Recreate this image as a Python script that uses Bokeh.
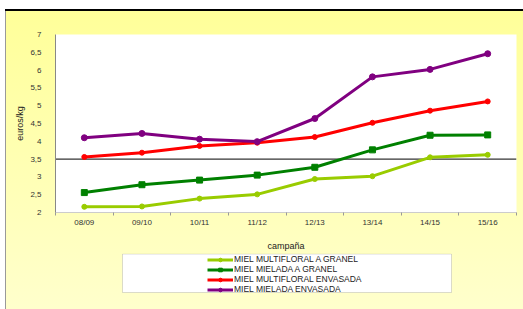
from bokeh.plotting import figure
from bokeh.layouts import column
from bokeh.models import Range1d, FixedTicker, Span, Legend, LegendItem, BoxAnnotation
from bokeh.embed import file_html
from bokeh.resources import INLINE

# ---- data ----
categories = ["08/09", "09/10", "10/11", "11/12", "12/13", "13/14", "14/15", "15/16"]
multifloral_granel = [2.16, 2.17, 2.39, 2.51, 2.94, 3.02, 3.55, 3.62]
mielada_granel = [2.56, 2.78, 2.91, 3.05, 3.27, 3.76, 4.17, 4.18]
multifloral_envasada = [3.56, 3.68, 3.87, 3.96, 4.12, 4.52, 4.86, 5.12]
mielada_envasada = [4.10, 4.22, 4.06, 3.99, 4.64, 5.81, 6.02, 6.46]
series_names = ["MIEL MULTIFLORAL A GRANEL", "MIEL MIELADA A GRANEL",
                "MIEL MULTIFLORAL ENVASADA", "MIEL MIELADA ENVASADA"]
y_ticks = [2, 2.5, 3, 3.5, 4, 4.5, 5, 5.5, 6, 6.5, 7]
y_tick_labels = ["2", "2,5", "3", "3,5", "4", "4,5", "5", "5,5", "6", "6,5", "7"]
reference_level = 3.5

x = [i + 0.5 for i in range(len(categories))]

FONT = "Liberation Sans"

p = figure(width=518, height=244, output_backend="svg", toolbar_location=None,
           x_range=Range1d(0, len(categories)), y_range=Range1d(2, 7),
           min_border_left=50, min_border_right=7, min_border_top=25,
           min_border_bottom=39)
p.border_fill_color = None
p.background_fill_color = "white"
p.outline_line_color = None
p.xgrid.visible = False
p.ygrid.visible = False

# axes
p.xaxis.ticker = FixedTicker(ticks=x, minor_ticks=list(range(len(categories) + 1)))
p.xaxis.major_label_overrides = {xi: c for xi, c in zip(x, categories)}
p.xaxis.major_tick_out = 0
p.xaxis.major_tick_in = 0
p.xaxis.minor_tick_out = 3
p.xaxis.minor_tick_in = 0
p.xaxis.minor_tick_line_color = "#999999"
p.xaxis.axis_line_color = "#cccccc"
p.xaxis.major_label_standoff = 2
p.xaxis.axis_label = "campaña"
p.xaxis.axis_label_standoff = 11

p.yaxis.ticker = FixedTicker(ticks=y_ticks, minor_ticks=[])
p.yaxis.major_label_overrides = {t: l for t, l in zip(y_ticks, y_tick_labels)}
p.yaxis.major_tick_out = 0
p.yaxis.major_tick_in = 0
p.yaxis.axis_line_color = "#888888"
p.yaxis.axis_line_width = 1
p.yaxis.major_label_standoff = 14
p.yaxis.axis_label = "euros/kg"
p.yaxis.axis_label_standoff = 2

for ax in (p.xaxis, p.yaxis):
    ax.major_label_text_font = FONT
    ax.major_label_text_font_size = "8px"
    ax.major_label_text_color = "#333333"
    ax.axis_label_text_font = FONT
    ax.axis_label_text_font_size = "9px"
    ax.axis_label_text_font_style = "normal"
    ax.axis_label_text_color = "#222222"

span = Span(location=reference_level, dimension="width", line_color="black",
            line_width=1, level="underlay")
p.add_layout(span)

colors = ["#99CC00", "#008000", "#FF0000", "#800080"]
series = [multifloral_granel, mielada_granel, multifloral_envasada, mielada_envasada]
markers = ["circle", "square", "circle", "circle"]
msizes = [5, 6, 5, 6]

for vals, col, mk, ms in zip(series, colors, markers, msizes):
    p.line(x, vals, line_color=col, line_width=3)
    p.scatter(x, vals, marker=mk, size=ms, fill_color=col, line_color=col)

# ---- legend panel below the chart (transparent frame, aligned with chart) ----
q = figure(width=518, height=56, output_backend="svg", toolbar_location=None,
           x_range=Range1d(0, 1), y_range=Range1d(0, 1),
           min_border_left=50, min_border_right=7, min_border_top=0,
           min_border_bottom=0)
q.axis.visible = False
q.grid.visible = False
q.border_fill_color = None
q.background_fill_color = None
q.outline_line_color = None

box = BoxAnnotation(left=67, right=396, top=55.5, bottom=17,
                    left_units="screen", right_units="screen",
                    top_units="screen", bottom_units="screen",
                    fill_color="white", fill_alpha=1,
                    line_color="#888888", line_width=1)
q.add_layout(box)

nan = float("nan")
items = []
for name, col, mk, ms in zip(series_names, colors, markers, msizes):
    # legend proxies (no visible data)
    r1 = q.line(x=[nan], y=[nan], line_color=col, line_width=3)
    r2 = q.scatter(x=[nan], y=[nan], marker=mk, size=ms, fill_color=col, line_color=col)
    items.append(LegendItem(label=name, renderers=[r1, r2]))

legend = Legend(items=items, location=(152, 15), orientation="vertical",
                padding=0, margin=0, spacing=0, glyph_width=26, glyph_height=9,
                label_height=9, label_standoff=1,
                label_text_font=FONT, label_text_font_size="8.5px",
                label_text_color="#222222",
                background_fill_alpha=0, border_line_color=None)
q.add_layout(legend, "center")

layout = column(p, q, spacing=0)
layout.margin = (9, 0, 0, 5)
layout.styles = {"background": "linear-gradient(#FFFF99, #FFFFCC)",
                 "box-shadow": "inset 0 2px 0 #000, inset 1px 0 0 #999"}

open("out.html", "w").write(file_html(layout, INLINE))
